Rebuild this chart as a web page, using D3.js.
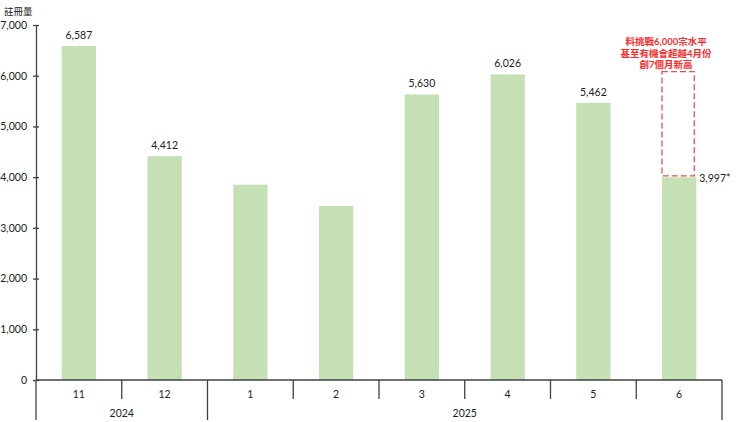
<!DOCTYPE html>
<html><head><meta charset="utf-8">
<script src="https://cdn.jsdelivr.net/npm/d3@7"></script>
<style>
body{margin:0;background:#fff;}
svg{display:block;font-family:Lato,"Noto Sans CJK TC",sans-serif;}
</style></head>
<body><svg id="c" width="750" height="422"></svg>
<script>
const months = ["11","12","1","2","3","4","5","6"];
const yearsOf = ["2024","2024","2025","2025","2025","2025","2025","2025"];
const values = [6587, 4412, 3850, 3430, 5630, 6026, 5462, 3997];
const valueLabels = ["6,587","4,412","","","5,630","6,026","5,462","3,997*"];
const yTicks = [0,1000,2000,3000,4000,5000,6000,7000];
const yTitle = "註冊量";
const noteLines = ["料挑戰6,000宗水平","甚至有機會超越4月份","創7個月新高"];
const noteTarget = 6080;

const svg = d3.select("#c");
const x0 = 36, x1 = 722, yBase = 380, yTop = 25;
const x = d3.scaleBand().domain(d3.range(months.length)).range([x0, x1]).paddingInner(0).paddingOuter(0);
const y = d3.scaleLinear().domain([0, 7000]).range([yBase, yTop]);
const barW = x.bandwidth() * 0.4;
const axisColor = "#404040";
const fs = 10.5;

// bars
svg.selectAll("rect.bar").data(values).join("rect")
  .attr("class","bar")
  .attr("x",(d,i)=>x(i)+x.bandwidth()/2-barW/2)
  .attr("width",barW)
  .attr("y",d=>y(d))
  .attr("height",d=>y(0)-y(d))
  .attr("fill","#c5e0b4");

// y axis
const yAxis = d3.axisLeft(y).tickValues(yTicks).tickFormat(d3.format(",")).tickSize(0).tickPadding(9);
const ya = svg.append("g").attr("transform",`translate(${x0},0)`).call(yAxis);
ya.select(".domain").attr("stroke",axisColor).attr("stroke-width",1.3);
ya.selectAll("text").attr("font-size",fs).attr("fill","#222").attr("font-family","Lato");
ya.selectAll(".tick").append("line").attr("x1",-3).attr("x2",3).attr("stroke",axisColor).attr("stroke-width",1.3);

svg.append("text").attr("x",4).attr("y",15).attr("font-size",9.5).attr("fill","#222").text(yTitle);

// x baseline
svg.append("line").attr("x1",x0).attr("x2",x1).attr("y1",y(0)).attr("y2",y(0))
  .attr("stroke",axisColor).attr("stroke-width",1.3);

// month labels
svg.selectAll("text.m").data(months).join("text")
  .attr("class","m")
  .attr("x",(d,i)=>x(i)+x.bandwidth()/2)
  .attr("y",398)
  .attr("text-anchor","middle").attr("font-size",fs).attr("fill","#222")
  .text(d=>d);

// separators
const bounds = d3.range(months.length+1);
svg.selectAll("line.sep").data(bounds).join("line")
  .attr("class","sep")
  .attr("x1",i=>i<months.length? x(i): x1)
  .attr("x2",i=>i<months.length? x(i): x1)
  .attr("y1",y(0))
  .attr("y2",i=>{
    if(i===0||i===months.length) return 420;
    return yearsOf[i]!==yearsOf[i-1] ? 420 : 399;
  })
  .attr("stroke",axisColor).attr("stroke-width",1.3);

// year labels
const yearGroups = d3.groups(d3.range(months.length), i=>yearsOf[i]);
svg.selectAll("text.yr").data(yearGroups).join("text")
  .attr("class","yr")
  .attr("x",([k,idx])=>(x(idx[0]) + x(idx[idx.length-1]) + x.bandwidth())/2)
  .attr("y",417)
  .attr("text-anchor","middle").attr("font-size",fs).attr("fill","#222")
  .text(([k])=>k);

// value labels
values.forEach((v,i)=>{
  const lbl = valueLabels[i];
  if(!lbl) return;
  const cx = x(i)+x.bandwidth()/2;
  if(i===months.length-1){
    svg.append("text").attr("x",cx+barW/2+3).attr("y",y(v)+5)
      .attr("font-size",fs).attr("fill","#222").text(lbl);
  } else {
    svg.append("text").attr("x",cx).attr("y",y(v)-7)
      .attr("text-anchor","middle").attr("font-size",fs).attr("fill","#222").text(lbl);
  }
});

// annotation
const li = months.length-1;
const acx = x(li)+x.bandwidth()/2;
svg.append("rect")
  .attr("x",acx-barW/2).attr("width",barW-2)
  .attr("y",y(noteTarget)).attr("height",y(values[li])-y(noteTarget)-1.5)
  .attr("fill","none").attr("stroke","#e8504f").attr("stroke-width",1.3)
  .attr("stroke-dasharray","6,3");
svg.selectAll("text.note").data(noteLines).join("text")
  .attr("class","note")
  .attr("x",acx-13).attr("y",(d,i)=>45+i*11.6)
  .attr("text-anchor","middle").attr("font-size",9.5).attr("font-weight","bold").attr("fill","#ff2a2a")
  .text(d=>d);
</script></body></html>
